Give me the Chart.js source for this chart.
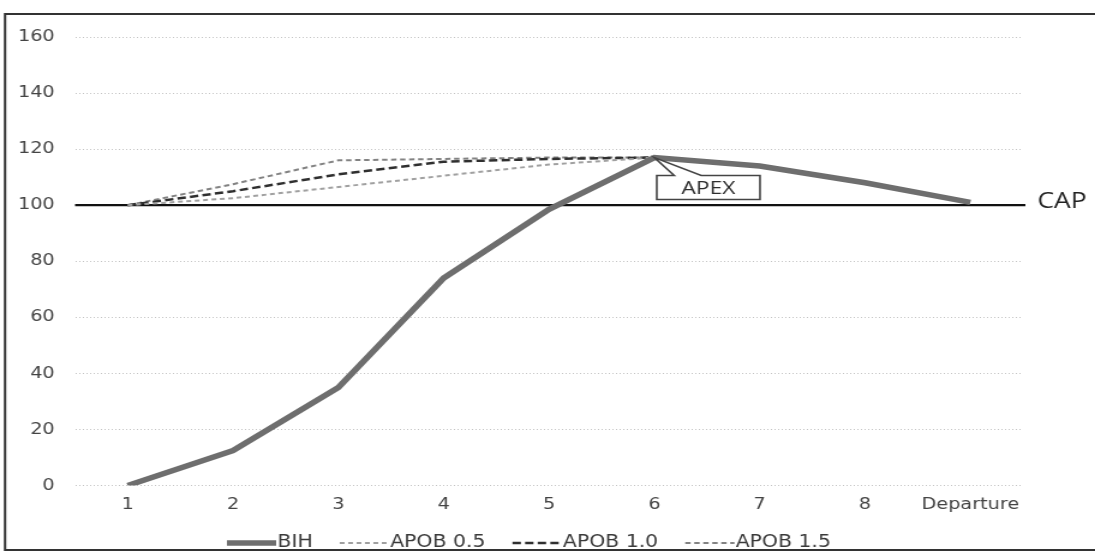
<!DOCTYPE html>
<html>
<head>
<meta charset="utf-8">
<style>
  html, body { margin: 0; padding: 0; background: #fff; overflow: hidden; }
  /* chart is laid out on a narrower canvas and widened with CSS */
  #wrap { position: relative; width: 912px; height: 553px; transform: scaleX(1.2007); transform-origin: 0 0; }
</style>
<script src="https://cdn.jsdelivr.net/npm/chart.js@4.4.0/dist/chart.umd.min.js"></script>
</head>
<body>
<div id="wrap"><canvas id="chart"></canvas></div>
<script>
const categories = ['1', '2', '3', '4', '5', '6', '7', '8', 'Departure'];
const bih     = [0, 12.5, 35, 74, 98.5, 117, 114, 108, 101];
const apob05  = [100, 102.5, 106.5, 110.5, 114.5, 117, null, null, null];
const apob10  = [100, 105, 111, 115.5, 116.5, 117, null, null, null];
const apob15  = [100, 107.5, 116, 116.5, 117, 117, null, null, null];
const yTicks  = [0, 20, 40, 60, 80, 100, 120, 140, 160];
const capValue = 100;
const apexIndex = 5;

const FONT = '"DejaVu Sans", Verdana, sans-serif';
const LABEL_FONT = '"Open Sans", "Liberation Sans", sans-serif';

// outer frame of the figure
const framePlugin = {
  id: 'frame',
  beforeDraw(chart) {
    const ctx = chart.ctx;
    ctx.save();
    ctx.strokeStyle = '#333';
    ctx.lineWidth = 2;
    ctx.strokeRect(4.2, 14, 2000, 536);
    ctx.restore();
  }
};

// horizontal CAP reference line with its label
const capPlugin = {
  id: 'capLine',
  beforeDatasetsDraw(chart) {
    const { ctx, chartArea, scales } = chart;
    const y = scales.y.getPixelForValue(capValue);
    ctx.save();
    ctx.strokeStyle = '#111';
    ctx.lineWidth = 2.2;
    ctx.beginPath();
    ctx.moveTo(chartArea.left, y);
    ctx.lineTo(chartArea.right + 2, y);
    ctx.stroke();
    ctx.fillStyle = '#222';
    ctx.font = '22px ' + LABEL_FONT;
    ctx.textBaseline = 'middle';
    ctx.textAlign = 'left';
    ctx.fillText('CAP', chartArea.right + 12, y - 3);
    ctx.restore();
  }
};

// callout box pointing at the top of the BIH curve
const apexPlugin = {
  id: 'apexCallout',
  afterDatasetsDraw(chart) {
    const { ctx, scales } = chart;
    const tx = scales.x.getPixelForValue(apexIndex);
    const ty = scales.y.getPixelForValue(bih[apexIndex]);
    const left = tx + 2, right = tx + 88, top = ty + 18, bottom = ty + 42;
    ctx.save();
    ctx.beginPath();
    ctx.moveTo(left, top);
    ctx.lineTo(tx + 16.5, top);
    ctx.lineTo(tx, ty);
    ctx.lineTo(tx + 39, top);
    ctx.lineTo(right, top);
    ctx.lineTo(right, bottom);
    ctx.lineTo(left, bottom);
    ctx.closePath();
    ctx.fillStyle = '#fff';
    ctx.fill();
    ctx.strokeStyle = '#444';
    ctx.lineWidth = 1.6;
    ctx.stroke();
    ctx.fillStyle = '#2e2e2e';
    ctx.font = '19px ' + LABEL_FONT;
    ctx.textAlign = 'center';
    ctx.textBaseline = 'middle';
    ctx.fillText('APEX', (left + right) / 2, (top + bottom) / 2 + 1);
    ctx.restore();
  }
};

// line-sample legend along the bottom
const legendPlugin = {
  id: 'lineLegend',
  afterDraw(chart) {
    const ctx = chart.ctx;
    let x = 189;
    const y = 543;
    ctx.save();
    ctx.font = '17px ' + FONT;
    ctx.textBaseline = 'middle';
    ctx.textAlign = 'left';
    chart.data.datasets.forEach(ds => {
      ctx.save();
      ctx.strokeStyle = ds.borderColor;
      ctx.lineWidth = ds.borderWidth;
      ctx.setLineDash(ds.borderDash || []);
      ctx.beginPath();
      ctx.moveTo(x, y);
      ctx.lineTo(x + 41, y);
      ctx.stroke();
      ctx.restore();
      ctx.fillStyle = '#3a3a3a';
      ctx.fillText(ds.label, x + 42, y);
      x += 42 + ctx.measureText(ds.label).width + 22.5;
    });
    ctx.restore();
  }
};

new Chart(document.getElementById('chart'), {
  type: 'line',
  data: {
    labels: categories,
    datasets: [
      { label: 'BIH', data: bih, borderColor: '#6e6e6e', borderWidth: 5.5 },
      { label: 'APOB 0.5', data: apob05, borderColor: '#a0a0a0', borderWidth: 2, borderDash: [4, 3] },
      { label: 'APOB 1.0', data: apob10, borderColor: '#2f2f2f', borderWidth: 2.5, borderDash: [7, 3.5] },
      { label: 'APOB 1.5', data: apob15, borderColor: '#828282', borderWidth: 2, borderDash: [4.5, 3] }
    ]
  },
  options: {
    responsive: true,
    maintainAspectRatio: false,
    animation: false,
    layout: { padding: { left: 0, right: 60, top: 37, bottom: 0 } },
    elements: { point: { radius: 0 }, line: { tension: 0, fill: false } },
    plugins: { legend: { display: false }, tooltip: { enabled: false } },
    scales: {
      x: {
        offset: true,
        grid: { display: false, drawTicks: false },
        border: { display: false },
        ticks: { color: '#444', font: { family: FONT, size: 16 }, padding: 10, maxRotation: 0, autoSkip: false },
        afterFit(scale) { scale.height = 67.5; }
      },
      y: {
        min: 0,
        max: 160,
        afterBuildTicks(scale) { scale.ticks = yTicks.map(v => ({ value: v })); },
        grid: {
          drawTicks: false,
          lineWidth: 1,
          color: c => (c.tick && c.tick.value === capValue) ? 'rgba(0,0,0,0)' : '#c4c4c4'
        },
        border: { display: false, dash: [1, 2] },
        ticks: { color: '#444', font: { family: FONT, size: 16 }, padding: 17 },
        afterFit(scale) { scale.width = 62.5; }
      }
    }
  },
  plugins: [framePlugin, capPlugin, apexPlugin, legendPlugin]
});
</script>
</body>
</html>
